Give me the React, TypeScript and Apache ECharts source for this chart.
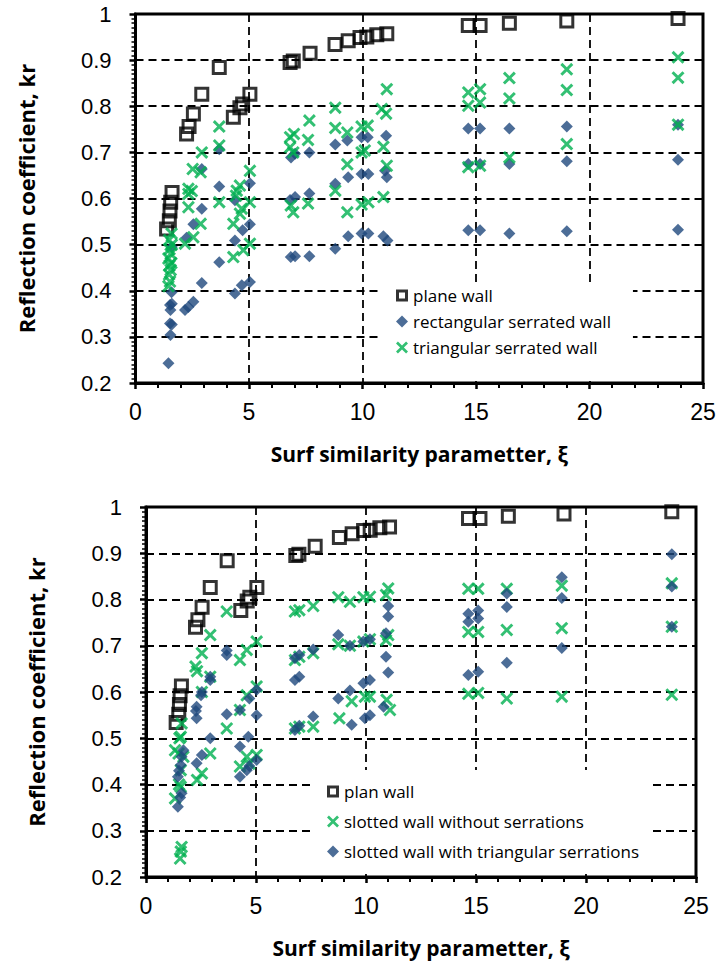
import React, { useEffect, useRef } from "react";
import * as echarts from "echarts";

// ---------- DATA ----------
const X_TICKS = [0, 5, 10, 15, 20, 25];
const Y_TICKS = [0.2, 0.3, 0.4, 0.5, 0.6, 0.7, 0.8, 0.9, 1];

// plane wall (same in both panels) [xi, kr]
const PLANE_WALL: number[][] = [
  [1.37, 0.534], [1.49, 0.552], [1.52, 0.573], [1.55, 0.592], [1.61, 0.613],
  [2.25, 0.74], [2.36, 0.756], [2.55, 0.783], [2.92, 0.826], [3.69, 0.884],
  [4.31, 0.776], [4.6, 0.797], [4.72, 0.805], [5.04, 0.826],
  [6.81, 0.895], [6.95, 0.898], [7.69, 0.915], [8.79, 0.934], [9.37, 0.942],
  [9.89, 0.949], [10.19, 0.95], [10.63, 0.955], [11.07, 0.957],
  [14.66, 0.975], [15.18, 0.975], [16.47, 0.98], [19.0, 0.985], [23.9, 0.99],
];

const RECT_SERRATED: number[][] = [
  [1.45, 0.243], [1.54, 0.304], [1.52, 0.329], [1.6, 0.327], [1.54, 0.358], [1.52, 0.369],
  [1.6, 0.372], [1.59, 0.397], [1.6, 0.495],
  [2.18, 0.358], [2.33, 0.365], [2.55, 0.376], [2.25, 0.515], [2.55, 0.544], [2.92, 0.417],
  [2.92, 0.578], [2.92, 0.664],
  [3.69, 0.462], [3.69, 0.626], [3.69, 0.707],
  [4.38, 0.394], [4.68, 0.412], [5.04, 0.419], [4.38, 0.509], [4.72, 0.531], [5.04, 0.544],
  [4.38, 0.596], [5.04, 0.633],
  [6.85, 0.689], [7.03, 0.697], [7.66, 0.7], [6.81, 0.597], [7.03, 0.603], [7.66, 0.611],
  [6.84, 0.473], [7.03, 0.475], [7.66, 0.475],
  [8.8, 0.717], [9.33, 0.726], [9.96, 0.733], [10.23, 0.733], [11.04, 0.736],
  [8.8, 0.632], [9.37, 0.646], [9.96, 0.653], [10.26, 0.653], [10.99, 0.66], [11.07, 0.646],
  [8.8, 0.491], [9.37, 0.518], [9.96, 0.524], [10.26, 0.524], [10.92, 0.518], [11.1, 0.509],
  [14.66, 0.752], [15.18, 0.752], [16.47, 0.752], [19.0, 0.756], [23.9, 0.76],
  [14.66, 0.675], [15.18, 0.675], [16.47, 0.675], [19.0, 0.681], [23.9, 0.684],
  [14.66, 0.531], [15.18, 0.531], [16.47, 0.524], [19.0, 0.529], [23.9, 0.532],
];

const TRI_SERRATED: number[][] = [
  [1.45, 0.41], [1.52, 0.42], [1.48, 0.435], [1.55, 0.445], [1.5, 0.455], [1.58, 0.46],
  [1.45, 0.47], [1.55, 0.48], [1.5, 0.49], [1.6, 0.5], [1.48, 0.51], [1.59, 0.524],
  [2.18, 0.502], [2.33, 0.581], [2.33, 0.61], [2.33, 0.621], [2.48, 0.616], [2.55, 0.516],
  [2.52, 0.664], [2.87, 0.657], [2.87, 0.545], [2.92, 0.7],
  [3.69, 0.756], [3.69, 0.715], [3.69, 0.592],
  [4.31, 0.545], [4.31, 0.473], [4.43, 0.606], [4.46, 0.617], [4.6, 0.628], [4.68, 0.578],
  [4.6, 0.567], [4.75, 0.488], [5.04, 0.66], [5.04, 0.592], [5.04, 0.502],
  [6.81, 0.733], [6.98, 0.74], [7.66, 0.769], [7.6, 0.727], [6.81, 0.711], [6.95, 0.7],
  [6.84, 0.585], [6.95, 0.57], [7.6, 0.589],
  [8.8, 0.797], [8.8, 0.753], [8.8, 0.617], [9.33, 0.743], [9.33, 0.674], [9.33, 0.57],
  [9.96, 0.756], [9.96, 0.7], [9.96, 0.587], [10.23, 0.758], [10.1, 0.704], [10.26, 0.592],
  [11.07, 0.837], [10.85, 0.794], [11.04, 0.784], [10.92, 0.712], [11.07, 0.671], [10.92, 0.603],
  [14.66, 0.83], [14.66, 0.801], [14.66, 0.668], [15.18, 0.837], [15.18, 0.808], [15.18, 0.671],
  [16.47, 0.861], [16.47, 0.817], [16.47, 0.689], [19.0, 0.88], [19.0, 0.835], [19.0, 0.718],
  [23.9, 0.906], [23.9, 0.862], [23.9, 0.76],
];

const SLOTTED_NO_SERR: number[][] = [
  [1.55, 0.24], [1.58, 0.255], [1.62, 0.265], [1.32, 0.37], [1.58, 0.395], [1.5, 0.4],
  [1.58, 0.431], [1.7, 0.46], [1.48, 0.467], [1.32, 0.474], [1.58, 0.503], [1.52, 0.5], [1.62, 0.532],
  [2.32, 0.41], [2.54, 0.424], [2.92, 0.467], [2.54, 0.6], [2.92, 0.633], [2.25, 0.655],
  [2.32, 0.645], [2.54, 0.684], [2.92, 0.723],
  [3.67, 0.774], [3.67, 0.521],
  [4.27, 0.439], [4.58, 0.46], [4.7, 0.445], [5.03, 0.464], [4.27, 0.561], [4.58, 0.593],
  [5.03, 0.612], [4.27, 0.669], [4.58, 0.691], [5.03, 0.709],
  [6.77, 0.774], [6.97, 0.777], [7.6, 0.786], [6.77, 0.669], [6.97, 0.676], [7.6, 0.684],
  [6.77, 0.521], [6.97, 0.525], [7.6, 0.525],
  [8.74, 0.805], [9.27, 0.795], [9.88, 0.805], [10.18, 0.806], [10.91, 0.81], [11.01, 0.824],
  [8.74, 0.703], [9.27, 0.7], [9.88, 0.709], [10.18, 0.714], [10.91, 0.712], [11.01, 0.723],
  [8.79, 0.543], [9.35, 0.58], [9.95, 0.59], [10.18, 0.59], [10.94, 0.583], [11.09, 0.561],
  [14.65, 0.823], [15.1, 0.823], [16.4, 0.823], [18.9, 0.83], [23.9, 0.835],
  [14.65, 0.73], [15.1, 0.73], [16.4, 0.734], [18.9, 0.738], [23.9, 0.741],
  [14.65, 0.596], [15.1, 0.598], [16.4, 0.586], [18.9, 0.59], [23.9, 0.594],
];

const SLOTTED_TRI_SERR: number[][] = [
  [1.45, 0.352], [1.55, 0.372], [1.62, 0.381], [1.45, 0.417], [1.5, 0.43], [1.58, 0.442],
  [1.62, 0.46], [1.7, 0.474],
  [2.3, 0.446], [2.54, 0.464], [2.92, 0.5], [2.3, 0.543], [2.27, 0.559], [2.3, 0.568],
  [2.5, 0.593], [2.54, 0.6], [2.92, 0.626], [2.92, 0.633],
  [3.67, 0.552], [3.67, 0.68], [3.67, 0.69],
  [4.27, 0.417], [4.58, 0.431], [4.7, 0.44], [5.03, 0.453], [4.27, 0.482], [4.65, 0.503],
  [5.03, 0.55], [4.27, 0.561], [4.7, 0.586], [5.03, 0.605],
  [6.77, 0.673], [6.97, 0.68], [7.6, 0.692], [6.77, 0.626], [6.97, 0.633],
  [6.77, 0.518], [6.97, 0.527], [7.6, 0.547],
  [8.74, 0.723], [9.27, 0.7], [9.88, 0.709], [10.18, 0.714], [10.91, 0.727],
  [11.01, 0.786], [11.01, 0.763], [10.91, 0.676], [11.01, 0.642],
  [8.74, 0.586], [9.27, 0.603], [9.88, 0.619], [10.18, 0.626],
  [9.35, 0.529], [9.95, 0.543], [10.18, 0.55], [10.8, 0.568],
  [14.65, 0.769], [14.65, 0.752], [14.65, 0.637], [15.1, 0.776], [15.1, 0.759], [15.1, 0.644],
  [16.4, 0.813], [16.4, 0.784], [16.4, 0.663], [18.9, 0.848], [18.9, 0.803], [18.9, 0.695],
  [23.9, 0.898], [23.9, 0.828], [23.9, 0.741],
];

const TOP_NAMES = ["plane wall", "rectangular serrated wall", "triangular serrated wall"];
const BOTTOM_NAMES = ["plan wall", "slotted wall without serrations", "slotted wall with triangular serrations"];
const X_TITLE = "Surf similarity parametter, ξ";
const Y_TITLE = "Reflection coefficient, kr";

// ---------- STYLE ----------
const GREEN = "#00B050";
const BLUE = "#1F497D";
const X_SYMBOL =
  "path://M0,1.6L1.6,0L5,3.4L8.4,0L10,1.6L6.6,5L10,8.4L8.4,10L5,6.6L1.6,10L0,8.4L3.4,5Z";
const SQUARE_RING_ICON = "path://M0,0L12,0L12,12L0,12Z M3,3L3,9L9,9L9,3Z";

function xAxisCfg(gridIndex: number) {
  return {
    type: "value",
    gridIndex,
    min: X_TICKS[0],
    max: X_TICKS[X_TICKS.length - 1],
    interval: X_TICKS[1] - X_TICKS[0],
    name: X_TITLE,
    nameLocation: "middle",
    nameGap: 60,
    nameTextStyle: { fontFamily: "Open Sans", fontWeight: "bold", fontSize: 21, color: "#000" },
    axisLine: { show: true, onZero: false, lineStyle: { color: "#000", width: 3 } },
    axisTick: { show: true, length: 6, lineStyle: { color: "#000", width: 2.5 } },
    minorTick: { show: true, splitNumber: 5, length: 5, lineStyle: { color: "#000", width: 2 } },
    splitLine: { show: true, lineStyle: { color: "#000", width: 1.8, type: [8, 5] } },
    axisLabel: { fontFamily: "Liberation Sans", fontSize: 23, color: "#000", margin: 17 },
  };
}

function yAxisCfg(gridIndex: number) {
  return {
    type: "value",
    gridIndex,
    min: Y_TICKS[0],
    max: Y_TICKS[Y_TICKS.length - 1],
    interval: 0.1,
    name: Y_TITLE,
    nameLocation: "middle",
    nameGap: 99,
    nameTextStyle: { fontFamily: "Open Sans", fontWeight: "bold", fontSize: 22, color: "#000" },
    axisLine: { show: true, onZero: false, lineStyle: { color: "#000", width: 3 } },
    axisTick: { show: true, length: 6, lineStyle: { color: "#000", width: 2.5 } },
    minorTick: { show: true, splitNumber: 10, length: 4, lineStyle: { color: "#000", width: 1.5 } },
    splitLine: { show: true, lineStyle: { color: "#000", width: 1.8, type: [8, 5] } },
    axisLabel: {
      fontFamily: "Liberation Sans",
      fontSize: 22,
      color: "#000",
      margin: 24,
      formatter: (v: number) => String(Math.round(v * 10) / 10),
    },
  };
}

const planeItem = { color: "rgba(255,255,255,0)", borderColor: "#000", borderWidth: 3 };
const planeStyle = { symbol: "rect", symbolSize: 12, itemStyle: planeItem };
const diamondStyle = { symbol: "diamond", symbolSize: 12, itemStyle: { color: BLUE } };
const crossStyle = { symbol: X_SYMBOL, symbolSize: 13, itemStyle: { color: GREEN } };

function legendData(names: string[]) {
  return names.map((n, i) =>
    i === 0
      ? { name: n, icon: SQUARE_RING_ICON, itemStyle: { color: "#000", borderWidth: 0 } }
      : { name: n }
  );
}

export default function App() {
  const ref = useRef<HTMLDivElement>(null);
  useEffect(() => {
    if (!ref.current) return;
    const chart = echarts.init(ref.current, undefined, { renderer: "svg" });
    const legendText = { fontFamily: "Open Sans", fontSize: 17, color: "#000" };
    chart.setOption({
      animation: false,
      backgroundColor: "#fff",
      grid: [
        { left: 135.5, top: 14, width: 567.5, height: 369, show: true, borderColor: "#000", borderWidth: 3 },
        { left: 146, top: 507, width: 550, height: 370, show: true, borderColor: "#000", borderWidth: 3 },
      ],
      xAxis: [xAxisCfg(0), xAxisCfg(1)],
      yAxis: [yAxisCfg(0), yAxisCfg(1)],
      legend: [
        {
          data: legendData(TOP_NAMES),
          orient: "vertical",
          left: 380,
          top: 283,
          padding: [4, 22, 25, 16],
          itemGap: 9,
          itemWidth: 12,
          itemHeight: 12,
          backgroundColor: "#fff",
          textStyle: legendText,
        },
        {
          data: legendData(BOTTOM_NAMES),
          orient: "vertical",
          left: 313,
          top: 770,
          padding: [13, 12, 14, 14],
          itemGap: 13,
          itemWidth: 12,
          itemHeight: 12,
          backgroundColor: "#fff",
          textStyle: legendText,
        },
      ],
      series: [
        { type: "scatter", name: TOP_NAMES[0], xAxisIndex: 0, yAxisIndex: 0, data: PLANE_WALL, ...planeStyle, z: 2 },
        { type: "scatter", name: TOP_NAMES[1], xAxisIndex: 0, yAxisIndex: 0, data: RECT_SERRATED, ...diamondStyle, z: 3 },
        { type: "scatter", name: TOP_NAMES[2], xAxisIndex: 0, yAxisIndex: 0, data: TRI_SERRATED, ...crossStyle, z: 4 },
        { type: "scatter", name: BOTTOM_NAMES[0], xAxisIndex: 1, yAxisIndex: 1, data: PLANE_WALL, ...planeStyle, z: 2 },
        { type: "scatter", name: BOTTOM_NAMES[1], xAxisIndex: 1, yAxisIndex: 1, data: SLOTTED_NO_SERR, ...crossStyle, z: 3 },
        { type: "scatter", name: BOTTOM_NAMES[2], xAxisIndex: 1, yAxisIndex: 1, data: SLOTTED_TRI_SERR, ...diamondStyle, z: 4 },
      ],
    });
    return () => chart.dispose();
  }, []);
  return <div ref={ref} style={{ position: "absolute", left: 0, top: 0, width: 721, height: 968 }} />;
}
